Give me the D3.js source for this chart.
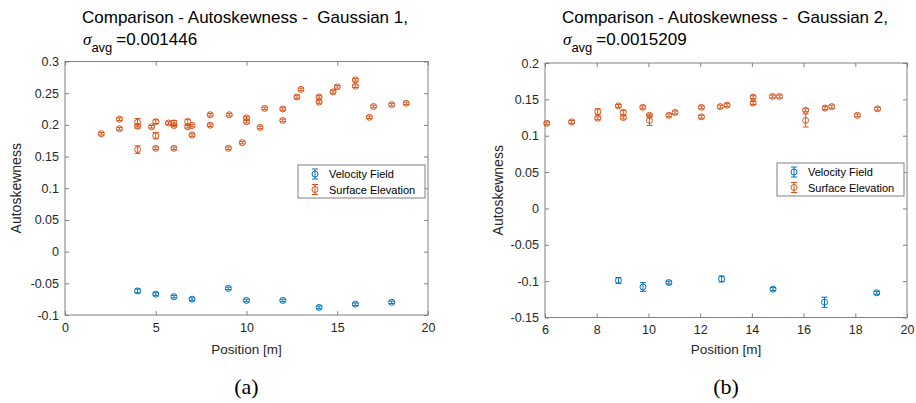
<!DOCTYPE html>
<html>
<head>
<meta charset="utf-8">
<script src="https://cdn.jsdelivr.net/npm/d3@7"></script>
<style>
  body { margin: 0; background: #fff; }
  svg { display: block; font-family: "Liberation Sans", Arial, sans-serif; }
</style>
</head>
<body>
<svg id="fig" width="916" height="403"></svg>
<script>
// Panel (a) - Gaussian 1
const velPosA = [4, 5, 6, 7, 9, 10, 12, 14, 16, 18];
const velSkewA = [-0.062, -0.067, -0.071, -0.075, -0.058, -0.077, -0.077, -0.088, -0.083, -0.080];
const velErrA = [0.003, 0.002, 0.002, 0.002, 0.002, 0.002, 0.002, 0.002, 0.002, 0.002];

const surfPosA = [2, 3, 3, 4, 4, 4, 4.77, 5, 5, 5, 5.7, 6, 6, 6, 6.76, 6.76, 7, 7, 8, 8, 9.05, 9, 9.77, 10, 10,
  10.75, 11, 12, 12, 12.78, 13, 14, 14, 14.77, 15, 16, 16, 16.77, 17, 18, 18.8];
const surfSkewA = [0.186, 0.209, 0.194, 0.204, 0.198, 0.161, 0.197, 0.205, 0.183, 0.163, 0.203, 0.203, 0.199, 0.163,
  0.205, 0.197, 0.199, 0.184, 0.216, 0.1995, 0.216, 0.163, 0.172, 0.211, 0.205,
  0.196, 0.226, 0.225, 0.207, 0.244, 0.256, 0.244, 0.236, 0.252, 0.26, 0.271, 0.261, 0.212, 0.229, 0.232, 0.234];
const surfErrA = [0.002, 0.002, 0.002, 0.006, 0.003, 0.006, 0.002, 0.003, 0.005, 0.002, 0.002, 0.004, 0.002, 0.002,
  0.004, 0.002, 0.002, 0.002, 0.002, 0.002, 0.002, 0.002, 0.002, 0.002, 0.002,
  0.002, 0.002, 0.002, 0.002, 0.002, 0.002, 0.002, 0.002, 0.002, 0.002, 0.002, 0.002, 0.002, 0.002, 0.002, 0.002];

const xTicksA = [0, 5, 10, 15, 20];
const yTicksA = [-0.1, -0.05, 0, 0.05, 0.1, 0.15, 0.2, 0.25, 0.3];

// Panel (b) - Gaussian 2
const velPosB = [8.84, 9.79, 10.79, 12.83, 14.82, 16.81, 18.83];
const velSkewB = [-0.099, -0.108, -0.102, -0.097, -0.111, -0.129, -0.116];
const velErrB = [0.004, 0.006, 0.002, 0.004, 0.002, 0.007, 0.002];

const surfPosB = [6.07, 7.03, 8.04, 8.04, 8.84, 9.03, 9.03, 9.78, 10.04, 10.04, 10.79, 11.03, 12.05, 12.05, 12.78,
  13.04, 14.05, 14.05, 14.8, 15.07, 16.08, 16.08, 16.83, 17.09, 18.08, 18.86];
const surfSkewB = [0.117, 0.119, 0.133, 0.124, 0.141, 0.132, 0.125, 0.139, 0.128, 0.121, 0.128, 0.132, 0.139, 0.126, 0.140,
  0.142, 0.153, 0.145, 0.154, 0.154, 0.135, 0.121, 0.138, 0.140, 0.128, 0.137];
const surfErrB = [0.002, 0.002, 0.004, 0.002, 0.002, 0.003, 0.002, 0.002, 0.002, 0.007, 0.002, 0.002, 0.002, 0.002, 0.002,
  0.002, 0.002, 0.002, 0.002, 0.002, 0.002, 0.009, 0.002, 0.002, 0.002, 0.002];

const xTicksB = [6, 8, 10, 12, 14, 16, 18, 20];
const yTicksB = [-0.15, -0.1, -0.05, 0, 0.05, 0.1, 0.15, 0.2];

const seriesNames = ["Velocity Field", "Surface Elevation"];
const blue = "#0072BD";
const orange = "#D95319";
const axisGray = "#808080";
const textColor = "#262626";

const svg = d3.select("#fig");

function errorMarker(g, cx, cy, yTop, yBot, color) {
  const cap = 3;
  g.append("line").attr("x1", cx).attr("x2", cx).attr("y1", yTop).attr("y2", yBot)
    .attr("stroke", color).attr("stroke-width", 1);
  g.append("line").attr("x1", cx - cap).attr("x2", cx + cap).attr("y1", yTop).attr("y2", yTop)
    .attr("stroke", color).attr("stroke-width", 1);
  g.append("line").attr("x1", cx - cap).attr("x2", cx + cap).attr("y1", yBot).attr("y2", yBot)
    .attr("stroke", color).attr("stroke-width", 1);
  g.append("circle").attr("cx", cx).attr("cy", cy).attr("r", 3)
    .attr("fill", "none").attr("stroke", color).attr("stroke-width", 1);
}

function drawPanel(p) {
  const x = d3.scaleLinear().domain(p.xDomain).range([p.left, p.right]);
  const y = d3.scaleLinear().domain(p.yDomain).range([p.bottom, p.top]);

  const g = svg.append("g");

  // axes box
  g.append("rect")
    .attr("x", p.left).attr("y", p.top)
    .attr("width", p.right - p.left).attr("height", p.bottom - p.top)
    .attr("fill", "#fff").attr("stroke", axisGray).attr("stroke-width", 1);

  const styleAxis = sel => {
    sel.select(".domain").remove();
    sel.selectAll(".tick line").attr("stroke", axisGray);
    sel.selectAll(".tick text").attr("fill", textColor).style("font-size", "12.5px")
      .style("font-family", "'Liberation Sans', Arial, sans-serif");
  };

  g.append("g").attr("transform", `translate(0,${p.bottom})`)
    .call(d3.axisBottom(x).tickValues(p.xTicks).tickSize(-4).tickPadding(8).tickFormat(d => d))
    .call(styleAxis);
  g.append("g").attr("transform", `translate(0,${p.top})`)
    .call(d3.axisTop(x).tickValues(p.xTicks).tickSize(-4).tickFormat(""))
    .call(styleAxis);
  g.append("g").attr("transform", `translate(${p.left},0)`)
    .call(d3.axisLeft(y).tickValues(p.yTicks).tickSize(-4).tickPadding(6).tickFormat(d => d))
    .call(styleAxis);
  g.append("g").attr("transform", `translate(${p.right},0)`)
    .call(d3.axisRight(y).tickValues(p.yTicks).tickSize(-4).tickFormat(""))
    .call(styleAxis);

  // data
  const series = [
    { pos: p.velPos, val: p.velSkew, err: p.velErr, color: blue },
    { pos: p.surfPos, val: p.surfSkew, err: p.surfErr, color: orange }
  ];
  series.forEach(s => {
    const sg = g.append("g");
    s.pos.forEach((d, i) => {
      errorMarker(sg, x(d), y(s.val[i]), y(s.val[i] + s.err[i]), y(s.val[i] - s.err[i]), s.color);
    });
  });

  // title
  const cx = (p.left + p.right) / 2;
  g.append("text").attr("x", p.titleX).attr("y", 23).attr("text-anchor", "middle")
    .attr("xml:space", "preserve").style("white-space", "pre")
    .attr("fill", "#000").style("font-size", "17px").text(p.title);
  const sub = g.append("text").attr("x", p.sigmaX).attr("y", 45).attr("fill", "#000").style("font-size", "17px");
  sub.append("tspan").style("font-family", "'Liberation Serif', serif").style("font-style", "italic").text("σ");
  sub.append("tspan").attr("dy", 7).style("font-size", "13px").text("avg");
  sub.append("tspan").attr("dy", -7).attr("dx", 4).text("=" + p.sigma);

  // axis labels
  g.append("text").attr("x", cx).attr("y", 354).attr("text-anchor", "middle")
    .attr("fill", textColor).style("font-size", "13.5px").text("Position [m]");
  g.append("text")
    .attr("transform", `translate(${p.left - p.yLabelOffset},${(p.top + p.bottom) / 2}) rotate(-90)`)
    .attr("text-anchor", "middle").attr("fill", textColor).style("font-size", "14px").text("Autoskewness");

  // legend
  const lg = g.append("g").attr("transform", `translate(${p.legX},${p.legY})`);
  lg.append("rect").attr("width", 127).attr("height", 33)
    .attr("fill", "#fff").attr("stroke", axisGray).attr("stroke-width", 1);
  [blue, orange].forEach((c, i) => {
    const yy = 9 + i * 15.5;
    errorMarker(lg, 17, yy, yy - 5, yy + 5, c);
    lg.append("text").attr("x", 31).attr("y", yy + 4).attr("fill", "#000")
      .style("font-size", "11px").text(seriesNames[i]);
  });

  // caption
  g.append("text").attr("x", cx).attr("y", 394).attr("text-anchor", "middle")
    .attr("fill", "#000").style("font-family", "'Liberation Serif', 'DejaVu Serif', serif")
    .style("font-size", "22px").text(p.caption);
}

drawPanel({
  left: 65, right: 428, top: 61.5, bottom: 315,
  xDomain: [0, 20], yDomain: [-0.1, 0.3], xTicks: xTicksA, yTicks: yTicksA,
  velPos: velPosA, velSkew: velSkewA, velErr: velErrA,
  surfPos: surfPosA, surfSkew: surfSkewA, surfErr: surfErrA,
  title: "Comparison - Autoskewness -  Gaussian 1,", titleX: 245, sigma: "0.001446", sigmaX: 83,
  yLabelOffset: 44, legX: 298, legY: 165, caption: "(a)"
});

drawPanel({
  left: 545, right: 907, top: 63, bottom: 317.5,
  xDomain: [6, 20], yDomain: [-0.15, 0.2], xTicks: xTicksB, yTicks: yTicksB,
  velPos: velPosB, velSkew: velSkewB, velErr: velErrB,
  surfPos: surfPosB, surfSkew: surfSkewB, surfErr: surfErrB,
  title: "Comparison - Autoskewness -  Gaussian 2,", titleX: 725, sigma: "0.0015209", sigmaX: 563,
  yLabelOffset: 42, legX: 777, legY: 163, caption: "(b)"
});
</script>
</body>
</html>
